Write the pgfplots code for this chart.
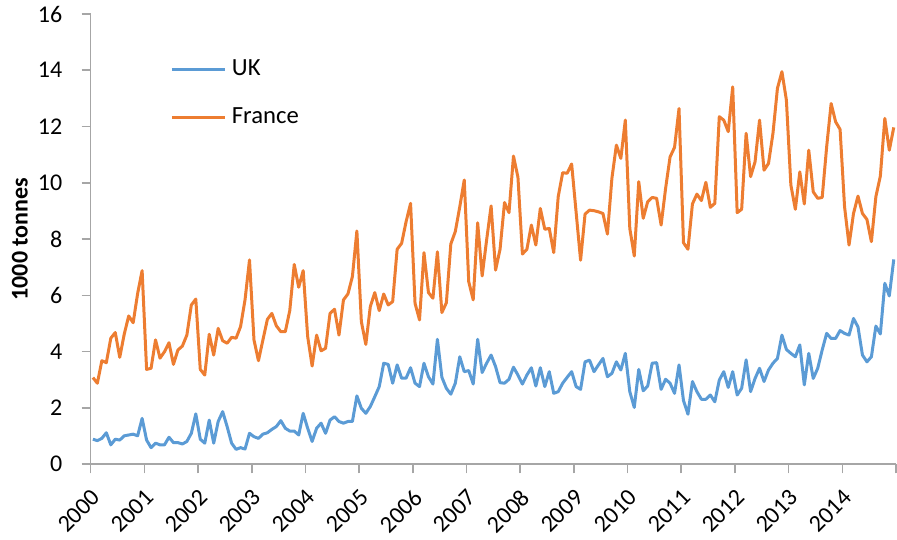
\documentclass[border=0pt]{standalone}
\usepackage{fontspec}
\setmainfont{Carlito}
\usepackage{pgfplots}
\usepackage{pgfplotstable}
\pgfplotsset{compat=1.18}
\definecolor{ukblue}{HTML}{5B9BD5}
\definecolor{frorange}{HTML}{ED7D31}
\definecolor{axisgray}{HTML}{A6A6A6}
\pgfplotstableread{
uk fr
0.89 3.08
0.84 2.88
0.92 3.68
1.12 3.61
0.69 4.48
0.89 4.68
0.86 3.80
1.01 4.62
1.04 5.27
1.07 5.03
1.01 6.07
1.63 6.88
0.86 3.37
0.59 3.41
0.75 4.42
0.69 3.77
0.69 4.00
0.96 4.32
0.77 3.55
0.77 4.06
0.72 4.20
0.81 4.59
1.10 5.66
1.79 5.87
0.89 3.37
0.75 3.17
1.57 4.62
0.75 3.88
1.52 4.83
1.87 4.39
1.34 4.30
0.75 4.51
0.53 4.48
0.59 4.89
0.54 5.84
1.10 7.26
0.98 4.42
0.92 3.68
1.07 4.42
1.12 5.15
1.24 5.36
1.34 4.92
1.55 4.71
1.28 4.71
1.18 5.46
1.18 7.10
1.04 6.29
1.81 6.88
1.28 4.54
0.81 3.49
1.28 4.59
1.46 4.03
1.10 4.12
1.57 5.36
1.69 5.51
1.52 4.59
1.46 5.84
1.52 6.05
1.52 6.67
2.43 8.29
1.99 5.07
1.81 4.26
2.05 5.60
2.40 6.10
2.76 5.46
3.59 6.05
3.55 5.66
2.88 5.78
3.53 7.64
3.06 7.85
3.06 8.62
3.43 9.27
2.88 5.72
2.76 5.13
3.59 7.52
3.11 6.10
2.85 5.90
4.44 7.55
3.09 5.39
2.70 5.74
2.49 7.83
2.88 8.27
3.82 9.15
3.29 10.10
3.33 6.49
2.85 5.84
4.44 8.58
3.26 6.69
3.59 7.97
3.88 9.18
3.47 6.90
2.90 7.64
2.88 9.30
3.02 8.94
3.45 10.95
3.17 10.20
2.85 7.47
3.17 7.64
3.43 8.50
2.78 7.79
3.43 9.09
2.76 8.35
3.29 8.38
2.52 7.52
2.58 9.51
2.88 10.36
3.09 10.34
3.29 10.67
2.76 8.96
2.66 7.25
3.64 8.89
3.70 9.03
3.29 9.01
3.53 8.97
3.76 8.91
3.11 8.18
3.23 10.16
3.64 11.34
3.35 10.87
3.94 12.23
2.58 8.38
2.02 7.40
3.37 10.04
2.61 8.74
2.78 9.33
3.59 9.48
3.61 9.45
2.66 8.50
3.02 9.80
2.88 10.92
2.52 11.26
3.53 12.64
2.26 7.87
1.78 7.64
2.94 9.25
2.58 9.60
2.31 9.37
2.31 10.02
2.46 9.13
2.22 9.27
2.99 12.35
3.29 12.23
2.73 11.82
3.29 13.41
2.46 8.94
2.70 9.06
3.71 11.76
2.58 10.22
3.05 10.75
3.41 12.23
2.94 10.45
3.35 10.69
3.59 11.76
3.76 13.36
4.59 13.95
4.08 12.94
3.94 9.92
3.82 9.06
4.24 10.39
2.82 9.25
3.94 11.16
3.05 9.68
3.41 9.45
4.06 9.48
4.65 11.28
4.47 12.82
4.47 12.17
4.75 11.90
4.65 9.15
4.59 7.79
5.18 8.91
4.88 9.53
3.88 8.91
3.64 8.70
3.82 7.91
4.91 9.51
4.63 10.24
6.43 12.29
5.98 11.16
7.28 11.97
}\data
\begin{document}
\begin{tikzpicture}
\begin{axis}[
  scale only axis,
  width=604pt, height=337.7pt,
  xmin=-0.5, xmax=179.5,
  ymin=0, ymax=16,
  axis x line=bottom, axis y line=left,
  axis line style={draw=axisgray, line width=1.2pt, -},
  tick style={draw=axisgray, line width=1.2pt},
  tick align=outside,
  major tick length=6.75pt,
  xtick={-0.5,11.5,23.5,35.5,47.5,59.5,71.5,83.5,95.5,107.5,119.5,131.5,143.5,155.5,167.5,179.5},
  xticklabels={2000,2001,2002,2003,2004,2005,2006,2007,2008,2009,2010,2011,2012,2013,2014,},
  ytick={0,2,4,6,8,10,12,14,16},
  /pgf/number format/assume math mode=true,
  tick label style={font=\fontsize{18}{21}\selectfont, text=black},
  xticklabel style={yshift=-13pt, xshift=6.5pt, rotate=45, anchor=east},
  yticklabel style={anchor=east, xshift=-11pt},
  ylabel={\textbf{1000 tonnes}},
  ylabel style={font=\fontsize{18}{21}\selectfont, at={(axis description cs:-0.0878,0.5)}, anchor=center},
  legend style={at={(0.0985,0.8235)}, anchor=west, draw=none, fill=none, inner sep=0pt,
    font=\fontsize{18.5}{21}\selectfont, row sep=19pt,
    nodes={inner sep=0pt, text height=13pt, text depth=4pt},
    /tikz/every odd column/.append style={column sep=4pt}},
  legend cell align=left,
  legend image code/.code={\draw[#1] (0pt,0pt) -- (40pt,0pt);},
  clip=false,
]
\addplot[ukblue, line width=2.25pt, line join=round] table[x expr=\coordindex, y=uk]{\data};
\addlegendentry{UK}
\addplot[frorange, line width=2.25pt, line join=round] table[x expr=\coordindex, y=fr]{\data};
\addlegendentry{France}
\end{axis}
\pgfresetboundingbox
\path ([xshift=-68pt,yshift=-56.8pt]current axis.south west) rectangle ([xshift=0.75pt,yshift=10.5pt]current axis.north east);
\end{tikzpicture}
\end{document}
